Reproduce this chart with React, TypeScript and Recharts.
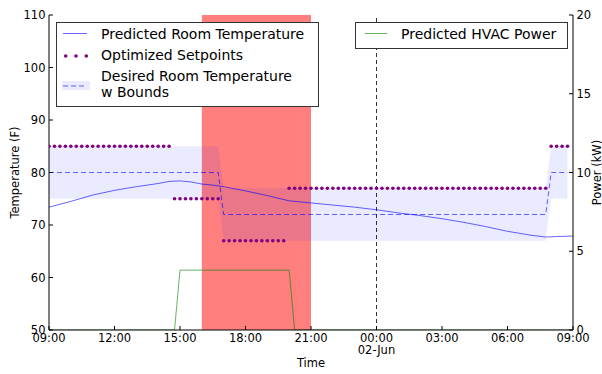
import React from "react";
import {
  ComposedChart,
  XAxis,
  YAxis,
  Line,
  Area,
  ReferenceLine
} from "recharts";

// x values are hours since 09:00 on 01-Jun
const hours = Array.from({ length: 96 }, (_, i) => i / 4); // 15 min steps

const setpoints = [
  85, 85, 85, 85, 85, 85, 85, 85, 85, 85, 85, 85,
  85, 85, 85, 85, 85, 85, 85, 85, 85, 85, 85, 75,
  75, 75, 75, 75, 75, 75, 75, 75, 67, 67, 67, 67,
  67, 67, 67, 67, 67, 67, 67, 67, 77, 77, 77, 77,
  77, 77, 77, 77, 77, 77, 77, 77, 77, 77, 77, 77,
  77, 77, 77, 77, 77, 77, 77, 77, 77, 77, 77, 77,
  77, 77, 77, 77, 77, 77, 77, 77, 77, 77, 77, 77,
  77, 77, 77, 77, 77, 77, 77, 77, 85, 85, 85, 85
];

const tempHours = [
  0, 1, 2, 3, 4, 5, 5.5, 6, 6.5, 7, 7.5, 8, 8.5, 9, 10, 11, 12, 13, 14, 15,
  16, 17, 18, 19, 20, 21, 22, 22.75, 23.25, 24
];
const tempValues = [
  73.4, 74.5, 75.7, 76.6, 77.3, 77.9, 78.3, 78.4, 78.2, 77.8, 77.6, 77.3,
  76.9, 76.5, 75.6, 74.6, 74.2, 73.8, 73.4, 72.9, 72.3, 71.8, 71.2, 70.5,
  69.7, 68.8, 68.1, 67.7, 67.8, 67.9
];

const desiredHours = [0, 7.75, 8, 22.75, 23, 23.75];
const desiredValues = [80, 80, 72, 72, 80, 80];
const bandLow = [75, 75, 67, 67, 75, 75];
const bandHigh = [85, 85, 77, 77, 85, 85];

const powerHours = [0, 5.75, 6, 11, 11.25, 24];
const powerValues = [0, 0, 3.8, 3.8, 0, 0];

const tickHours = [0, 3, 6, 9, 12, 15, 18, 21, 24];
const tickLabels = ["09:00", "12:00", "15:00", "18:00", "21:00", "00:00", "03:00", "06:00", "09:00"];
const tempTicks = [50, 60, 70, 80, 90, 100, 110];
const powerTicks = [0, 5, 10, 15, 20];

const peakHours = [7, 12]; // 16:00 - 21:00 peak window
const midnight = 15;

const setpointData = hours.map((h, i) => ({ h, sp: setpoints[i] }));
const tempData = tempHours.map((h, i) => ({ h, temp: tempValues[i] }));
const desiredData = desiredHours.map((h, i) => ({
  h,
  desired: desiredValues[i],
  band: [bandLow[i], bandHigh[i]]
}));
const powerData = powerHours.map((h, i) => ({ h, power: powerValues[i] }));
const peakData = peakHours.map((h) => ({ h, span: [50, 110] }));

const FONT = "DejaVu Sans";

const TimeTick = (props: any) => {
  const { x, y, payload } = props;
  const i = tickHours.indexOf(payload.value);
  return (
    <g>
      <text x={x} y={y + 9} textAnchor="middle" fontSize={11.5} fontFamily={FONT} fill="#000">
        {tickLabels[i]}
      </text>
      {payload.value === midnight && (
        <text x={x} y={y + 20.5} textAnchor="middle" fontSize={11.5} fontFamily={FONT} fill="#000">
          02-Jun
        </text>
      )}
    </g>
  );
};

const tickStyle = { fontSize: 11.5, fontFamily: FONT, fill: "#000" };

const App: React.FC = () => {
  return (
    <div style={{ position: "absolute", left: 0, top: 0, width: 602, height: 374, background: "#fff" }}>
      <ComposedChart width={602} height={374} margin={{ top: 15, right: 0, bottom: 0, left: 0 }}>
        <XAxis
          xAxisId="bottom"
          dataKey="h"
          type="number"
          domain={[0, 24]}
          ticks={tickHours}
          height={44}
          stroke="#000"
          tickSize={-4}
          tickMargin={7}
          tick={<TimeTick />}
          allowDataOverflow
        />
        <XAxis
          xAxisId="top"
          orientation="top"
          dataKey="h"
          type="number"
          domain={[0, 24]}
          ticks={tickHours}
          height={0}
          stroke="#000"
          tickSize={-4}
          tick={false}
        />
        <YAxis
          yAxisId="left"
          domain={[50, 110]}
          ticks={tempTicks}
          width={49}
          stroke="#000"
          tickSize={-4}
          tickMargin={7.5}
          tick={tickStyle}
          allowDataOverflow
        />
        <YAxis
          yAxisId="right"
          orientation="right"
          domain={[0, 20]}
          ticks={powerTicks}
          width={29}
          stroke="#000"
          tickSize={-4}
          tickMargin={7.5}
          tick={{ ...tickStyle, textAnchor: "start" }}
          allowDataOverflow
        />
        {/* peak window shading, band drawn over it */}
        <Area
          xAxisId="bottom"
          yAxisId="left"
          data={peakData}
          dataKey="span"
          type="linear"
          fill="#ff0000"
          fillOpacity={0.5}
          stroke="none"
          isAnimationActive={false}
          activeDot={false}
        />
        <Area
          xAxisId="bottom"
          yAxisId="left"
          data={desiredData}
          dataKey="band"
          type="linear"
          fill="#0000ff"
          fillOpacity={0.08}
          stroke="none"
          isAnimationActive={false}
          activeDot={false}
        />
        <ReferenceLine
          xAxisId="bottom"
          yAxisId="left"
          x={midnight}
          stroke="#000"
          strokeOpacity={0.8}
          strokeDasharray="4 3"
        />
        <Line
          xAxisId="bottom"
          yAxisId="left"
          data={desiredData}
          dataKey="desired"
          type="linear"
          stroke="#0000ff"
          strokeOpacity={0.6}
          strokeDasharray="5 3"
          strokeWidth={1}
          dot={false}
          activeDot={false}
          isAnimationActive={false}
        />
        <Line
          xAxisId="bottom"
          yAxisId="left"
          data={tempData}
          dataKey="temp"
          type="linear"
          stroke="#0000ff"
          strokeOpacity={0.6}
          strokeWidth={1}
          dot={false}
          activeDot={false}
          isAnimationActive={false}
        />
        <Line
          xAxisId="bottom"
          yAxisId="left"
          data={setpointData}
          dataKey="sp"
          type="linear"
          stroke="none"
          dot={{ r: 1.8, fill: "#800080", stroke: "none", fillOpacity: 1 }}
          activeDot={false}
          isAnimationActive={false}
        />
        <Line
          xAxisId="bottom"
          yAxisId="right"
          data={powerData}
          dataKey="power"
          type="linear"
          stroke="#008000"
          strokeOpacity={0.6}
          strokeWidth={1}
          dot={false}
          activeDot={false}
          isAnimationActive={false}
        />
      </ComposedChart>

      <svg
        width={602}
        height={374}
        style={{ position: "absolute", left: 0, top: 0, pointerEvents: "none" }}
        fontFamily={FONT}
      >
        <text x={0} y={0} fontSize={11.5} textAnchor="middle" transform="translate(18.5,172.5) rotate(-90)">
          Temperature (F)
        </text>
        <text x={0} y={0} fontSize={11.5} textAnchor="middle" transform="translate(601,172.5) rotate(-90)">
          Power (kW)
        </text>
        <text x={311} y={366.5} fontSize={11.5} textAnchor="middle">
          Time
        </text>

        <rect x={56.5} y={22.5} width={262} height={84} fill="#fff" stroke="#333" />
        <line x1={63} x2={87} y1={33.5} y2={33.5} stroke="#0000ff" strokeOpacity={0.6} />
        <text x={101} y={38.5} fontSize={14}>Predicted Room Temperature</text>
        <circle cx={65.7} cy={56} r={1.8} fill="#800080" />
        <circle cx={76} cy={56} r={1.8} fill="#800080" />
        <circle cx={86.3} cy={56} r={1.8} fill="#800080" />
        <text x={101} y={59.8} fontSize={14}>Optimized Setpoints</text>
        <rect x={62} y={81} width={28} height={9} fill="#0000ff" fillOpacity={0.08} />
        <line x1={63} x2={87} y1={86} y2={86} stroke="#0000ff" strokeOpacity={0.6} strokeDasharray="5 3" />
        <text x={101} y={81.3} fontSize={14}>Desired Room Temperature</text>
        <text x={101} y={96.5} fontSize={14}>w Bounds</text>

        <rect x={355.5} y={22.5} width={212} height={26} fill="#fff" stroke="#333" />
        <line x1={365} x2={387} y1={33.5} y2={33.5} stroke="#008000" strokeOpacity={0.6} />
        <text x={401} y={38.5} fontSize={14}>Predicted HVAC Power</text>
      </svg>
    </div>
  );
};

export default App;
